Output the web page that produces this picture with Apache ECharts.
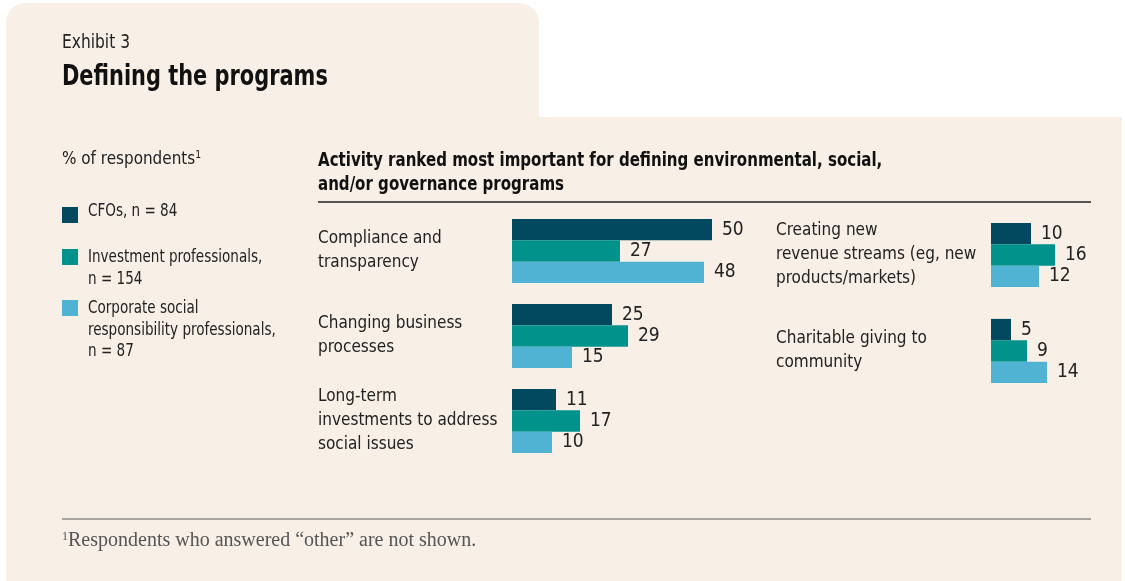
<!DOCTYPE html>
<html>
<head>
<meta charset="utf-8">
<script src="https://cdn.jsdelivr.net/npm/echarts@6/dist/echarts.min.js"></script>
<style>
  html, body { margin: 0; padding: 0; background: #ffffff; }
  #chart { width: 1125px; height: 581px; }
</style>
</head>
<body>
<div id="chart"></div>
<script>
// categories (left and right column)
const leftCategories = ['Compliance and\ntransparency', 'Changing business\nprocesses', 'Long-term\ninvestments to address\nsocial issues']
const rightCategories = ['Creating new\nrevenue streams (eg, new\nproducts/markets)', 'Charitable giving to\ncommunity']

// series values, % of respondents
const seriesNames = ['CFOs, n = 84', 'Investment professionals,\nn = 154', 'Corporate social\nresponsibility professionals,\nn = 87']
const cfosLeft = [50, 25, 11]
const investLeft = [27, 29, 17]
const csrLeft = [48, 15, 10]
const cfosRight = [10, 5]
const investRight = [16, 9]
const csrRight = [12, 14]

const colors = ['#02495f', '#00928b', '#51b3d3']
const FONT = "'Liberation Sans Narrow', 'DejaVu Sans Condensed', sans-serif"
const BG = '#f8efe6'

const chart = echarts.init(document.getElementById('chart'))

const makeSeries = (name, data, idx, color) => ({
  name: name,
  type: 'bar',
  xAxisIndex: idx,
  yAxisIndex: idx,
  data: data,
  barWidth: 21.4,
  barGap: '0%',
  itemStyle: { color: color },
  silent: true,
  label: {
    show: true,
    position: 'right',
    distance: 10,
    fontFamily: FONT,
    fontSize: 19,
    color: '#222'
  }
})

const catAxis = (idx, data, margin) => ({
  type: 'category',
  gridIndex: idx,
  data: data,
  inverse: true,
  axisLine: { show: false },
  axisTick: { show: false },
  axisLabel: {
    align: 'left',
    margin: margin,
    fontFamily: FONT,
    fontSize: 17,
    lineHeight: 24,
    padding: [6, 0, 0, 0],
    color: '#222'
  }
})

const valAxis = (idx, max) => ({
  type: 'value',
  gridIndex: idx,
  min: 0,
  max: max,
  show: false,
  splitLine: { show: false }
})

// legend drawn by hand, the original stacks it with uneven gaps
const legendRows = [
  { sq: 207, txt: 201 },
  { sq: 249, txt: 247 },
  { sq: 300, txt: 298 }
]
const legendItems = []
seriesNames.forEach((n, i) => {
  legendItems.push({
    type: 'rect',
    shape: { x: 62, y: legendRows[i].sq, width: 16, height: 16 },
    style: { fill: colors[i] }
  })
  legendItems.push({
    type: 'text',
    x: 88,
    y: legendRows[i].txt,
    scaleX: 0.86,
    style: { text: n, font: '17.5px ' + FONT, fill: '#222', lineHeight: 21.5 }
  })
})

const option = {
  backgroundColor: '#ffffff',
  animation: false,
  graphic: [
    // background card with the tab on top
    { type: 'rect', z: -10, shape: { x: 6, y: 3, width: 533, height: 130, r: [20, 20, 0, 0] }, style: { fill: BG } },
    { type: 'rect', z: -10, shape: { x: 6, y: 117, width: 1116, height: 464 }, style: { fill: BG } },

    { type: 'text', x: 62, y: 33, scaleX: 0.86, style: { text: 'Exhibit 3', font: '20px ' + FONT, fill: '#222' } },
    { type: 'text', x: 62, y: 64, scaleX: 0.83, style: { text: 'Defining the programs', font: 'bold 28px ' + FONT, fill: '#111' } },

    { type: 'text', x: 62, y: 150, scaleX: 0.94, style: {
      text: '{a|% of respondents}{s|1}',
      rich: {
        a: { font: '18px ' + FONT, fill: '#222' },
        s: { font: '11px ' + FONT, fill: '#222', verticalAlign: 'top', padding: [0, 0, 8, 0] }
      }
    } },

    { type: 'text', x: 318, y: 149, scaleX: 0.88, style: {
      text: 'Activity ranked most important for defining environmental, social,\nand/or governance programs',
      font: 'bold 19px ' + FONT, fill: '#111', lineHeight: 24
    } },
    { type: 'line', shape: { x1: 318, y1: 202, x2: 1091, y2: 202 }, style: { stroke: '#222', lineWidth: 1.6 } },

    ...legendItems,

    { type: 'line', shape: { x1: 62, y1: 519, x2: 1091, y2: 519 }, style: { stroke: '#a9a49f', lineWidth: 2 } },
    { type: 'text', x: 62, y: 531, style: {
      text: '{s|1}{a|Respondents who answered \u201cother\u201d are not shown.}',
      rich: {
        a: { font: '20px "Liberation Serif", serif', fill: '#555' },
        s: { font: '12px "Liberation Serif", serif', fill: '#555', verticalAlign: 'top' }
      }
    } }
  ],
  grid: [
    { left: 512, top: 208.5, width: 400, height: 255 },
    { left: 991, top: 207, width: 100, height: 192 }
  ],
  xAxis: [valAxis(0, 100), valAxis(1, 25)],
  yAxis: [catAxis(0, leftCategories, 194), catAxis(1, rightCategories, 215)],
  series: [
    makeSeries(seriesNames[0], cfosLeft, 0, colors[0]),
    makeSeries(seriesNames[1], investLeft, 0, colors[1]),
    makeSeries(seriesNames[2], csrLeft, 0, colors[2]),
    makeSeries(seriesNames[0], cfosRight, 1, colors[0]),
    makeSeries(seriesNames[1], investRight, 1, colors[1]),
    makeSeries(seriesNames[2], csrRight, 1, colors[2])
  ]
}

chart.setOption(option)
</script>
</body>
</html>
